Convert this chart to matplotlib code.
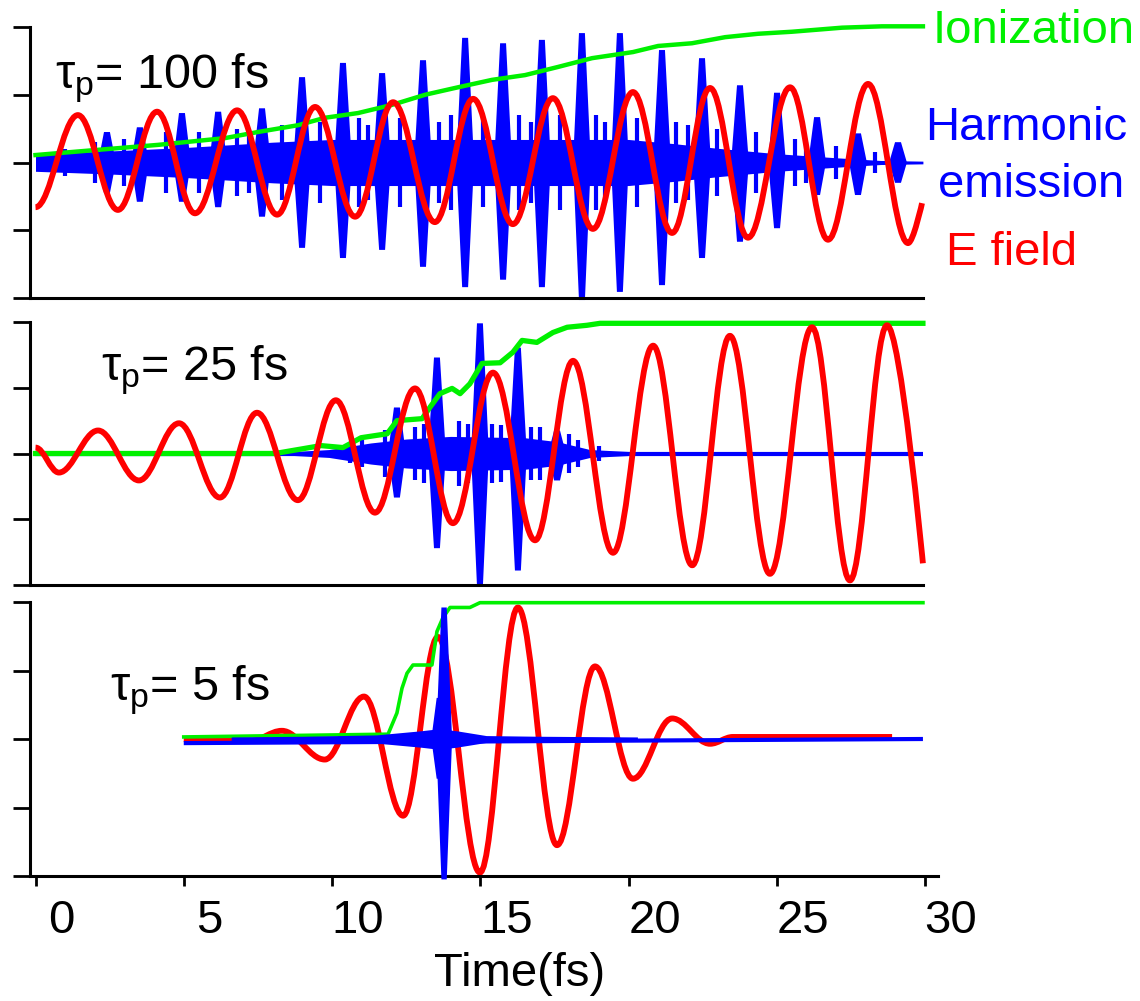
import matplotlib
matplotlib.use('Agg')
import matplotlib.pyplot as plt
import numpy as np
from matplotlib.path import Path
from matplotlib.patches import PathPatch
from matplotlib.transforms import ScaledTranslation

# ---------------- fonts ----------------
plt.rcParams['font.family'] = ['Liberation Sans', 'DejaVu Sans']
plt.rcParams['mathtext.fontset'] = 'custom'
plt.rcParams['mathtext.rm'] = 'Liberation Sans'
plt.rcParams['mathtext.it'] = 'Liberation Sans'
plt.rcParams['mathtext.bf'] = 'Liberation Sans:bold'

RED = '#ff0000'
BLUE = '#0000ff'
GREEN = '#00f000'

# ---------------- data ----------------
# E field: extrema (time fs, value) per panel
e1_t = [0.0, 1.43, 2.78, 4.10, 5.38, 6.80, 8.15, 9.43, 10.78, 12.06, 13.47, 14.76,
        16.10, 17.45, 18.80, 20.15, 21.47, 22.75, 24.03, 25.45, 26.73, 28.08, 29.43, 29.90]
e1_v = [-0.66, 0.70, -0.70, 0.75, -0.75, 0.77, -0.77, 0.82, -0.80, 0.89, -0.88, 0.94,
        -0.91, 0.95, -0.98, 1.04, -1.04, 1.10, -1.11, 1.11, -1.14, 1.16, -1.19, -0.60]

e2_t = [0.0, 0.79, 2.11, 3.49, 4.84, 6.22, 7.47, 8.85, 10.13, 11.45, 12.80, 14.08,
        15.43, 16.85, 18.13, 19.48, 20.83, 22.15, 23.42, 24.77, 26.19, 27.47, 28.72, 29.93]
e2_v = [0.09, -0.29, 0.35, -0.41, 0.46, -0.67, 0.62, -0.71, 0.81, -0.90, 0.99, -1.06,
        1.23, -1.32, 1.41, -1.51, 1.64, -1.70, 1.79, -1.83, 1.92, -1.93, 1.95, -1.67]

e3_t = [5.0, 7.23, 8.31, 9.76, 11.08, 12.40, 13.57, 14.99, 16.27, 17.59, 18.87,
        20.15, 21.47, 22.75, 23.52, 28.89]
e3_v = [0.0, -0.03, 0.12, -0.30, 0.62, -1.12, 1.49, -1.95, 1.92, -1.55, 1.06,
        -0.58, 0.30, -0.07, 0.03, 0.03]

# Ionization (time, value)
ion1_t = [0.0, 1.91, 4.13, 6.39, 7.50, 8.85, 9.76, 10.88, 12.02, 13.14, 14.25, 15.40,
          16.51, 17.62, 18.77, 20.15, 21.0, 22.14, 23.26, 24.37, 25.51, 27.20, 28.55, 29.93]
ion1_v = [0.11, 0.18, 0.26, 0.36, 0.45, 0.55, 0.66, 0.73, 0.85, 1.00, 1.11, 1.22,
          1.29, 1.41, 1.54, 1.63, 1.72, 1.76, 1.85, 1.90, 1.93, 1.99, 2.01, 2.01]

ion2_t = [0.0, 8.08, 9.63, 10.37, 10.98, 11.86, 12.19, 13.04, 13.30, 13.64, 14.05, 14.32,
          14.65, 15.06, 15.67, 16.10, 16.41, 16.91, 17.45, 17.93, 18.60, 19.04, 29.93]
ion2_v = [0.0, 0.0, 0.12, 0.09, 0.24, 0.30, 0.50, 0.53, 0.70, 0.91, 0.99, 0.91,
          1.06, 1.37, 1.38, 1.54, 1.72, 1.69, 1.84, 1.92, 1.95, 1.98, 1.98]

ion3_t = [5.0, 11.89, 12.19, 12.36, 12.53, 12.73, 13.37, 13.54, 13.74, 13.98, 14.65, 14.99, 29.93]
ion3_v = [0.03, 0.07, 0.38, 0.74, 0.96, 1.08, 1.08, 1.57, 1.77, 1.92, 1.92, 1.99, 1.99]

# Harmonic emission: background band half-width, main bursts (t, top, bottom), minor spikes
hb1_t = [0.0, 2.5, 5.0, 8.0, 10.0, 15.0, 20.0, 21.5, 23.0, 25.0, 27.0, 28.5, 29.93]
hb1_w = [0.13, 0.17, 0.22, 0.30, 0.34, 0.34, 0.34, 0.28, 0.21, 0.13, 0.07, 0.03, 0.02]
hs1_t = [2.41, 3.52, 4.94, 6.16, 7.64, 8.99, 10.37, 11.69, 13.07, 14.49, 15.77,
         17.08, 18.43, 19.71, 21.13, 22.48, 23.76, 25.01, 26.36, 27.74, 29.09]
hs1_top = [0.45, 0.52, 0.73, 0.75, 0.80, 1.26, 1.47, 1.32, 1.51, 1.84, 1.76,
           1.81, 1.91, 1.91, 1.66, 1.54, 1.14, 1.03, 0.67, 0.43, 0.30]
hs1_bot = [-0.45, -0.58, -0.58, -0.66, -0.80, -1.26, -1.41, -1.29, -1.54, -1.84, -1.73,
           -1.84, -2.03, -1.91, -1.81, -1.41, -1.17, -0.97, -0.48, -0.48, -0.30]
hm1_t = [1.0, 2.0, 3.0, 4.4, 5.5, 6.8, 7.2, 8.3, 9.6, 10.9, 11.2, 12.3, 13.6, 14.0, 15.1,
         16.3, 16.7, 17.7, 18.9, 19.2, 20.3, 21.6, 22.0, 23.0, 24.3, 25.6, 26.0, 27.0, 28.3]
hm1_a = [0.2, 0.3, 0.35, 0.45, 0.45, 0.5, 0.45, 0.55, 0.6, 0.65, 0.55, 0.65, 0.6, 0.7, 0.65,
         0.7, 0.6, 0.7, 0.7, 0.6, 0.65, 0.6, 0.55, 0.5, 0.45, 0.35, 0.3, 0.25, 0.15]

hb2_t = [8.3, 9.9, 11.3, 12.5, 14.0, 16.5, 17.6, 18.7, 20.5]
hb2_w = [0.02, 0.06, 0.16, 0.22, 0.26, 0.24, 0.18, 0.06, 0.02]
hs2_t = [12.19, 13.54, 14.99, 16.27, 17.59]
hs2_top = [0.70, 1.46, 1.98, 1.61, 0.35]
hs2_bot = [-0.67, -1.44, -2.01, -1.78, -0.41]
hm2_t = [10.6, 11.0, 11.8, 12.8, 13.1, 14.3, 14.6, 15.4, 15.7, 16.7, 17.0, 18.0, 18.3, 19.0]
hm2_a = [0.15, 0.2, 0.35, 0.4, 0.45, 0.5, 0.45, 0.45, 0.43, 0.4, 0.4, 0.3, 0.2, 0.12]

hline3_t = [5.0, 29.93]
hline3_v = [-0.06, 0.0]
hb3_t = [6.6, 9.0, 11.5, 13.0, 13.6, 14.2, 15.2, 17.0, 20.3]
hb3_w = [0.03, 0.04, 0.06, 0.12, 0.15, 0.12, 0.05, 0.04, 0.03]
hs3_t = [13.62, 13.78]
hs3_top = [0.60, 1.92]
hs3_bot = [-0.58, -2.05]

xticks = [0, 5, 10, 15, 20, 25, 30]
yticks = [-2, -1, 0, 1, 2]

# ---------------- helpers ----------------
W, H = 1140, 1001


def fx(px):
    return px / W


def fy(py):
    return 1 - py / H


def efield(ax, t, v, free_start=False, free_end=True, z=3):
    # smooth curve through the extrema: Bezier segments with flat tangents at each extremum
    verts = [(t[0], v[0])]
    codes = [Path.MOVETO]
    for i in range(1, len(t)):
        dt = t[i] - t[i - 1]
        c1 = (t[i - 1] + 0.364 * dt, v[i - 1])
        c2 = (t[i] - 0.364 * dt, v[i])
        if i == 1 and free_start:
            c1 = (t[0], v[0])
        if i == len(t) - 1 and free_end:
            c2 = (t[i], v[i])
        verts += [c1, c2, (t[i], v[i])]
        codes += [Path.CURVE4] * 3
    patch = PathPatch(Path(verts, codes), facecolor='none', edgecolor=RED, lw=4.2,
                      joinstyle='round', capstyle='butt', zorder=z, clip_on=False)
    ax.add_patch(patch)


def spikes(ax, ts, tops, bots, center=0.0, hw=0.07, z=1):
    # column-like burst: narrow tip, slightly wider body, wider foot
    for t, top, bot in zip(ts, tops, bots):
        mt = center + 0.7 * (top - center)
        mb = center + 0.7 * (bot - center)
        xs = [t - 3 * hw, t - 1.6 * hw, t - hw, t + hw, t + 1.6 * hw, t + 3 * hw,
              t + 1.6 * hw, t + hw, t - hw, t - 1.6 * hw]
        ys = [center, mt, top, top, mt, center, mb, bot, bot, mb]
        ax.fill(xs, ys, color=BLUE, lw=0, zorder=z, clip_on=False)


def style(ax, xmax, show_x=False):
    ax.set_xlim(-0.1855, xmax)
    ax.set_ylim(-2, 2)
    for s in ['top', 'right']:
        ax.spines[s].set_visible(False)
    for s in ['left', 'bottom']:
        ax.spines[s].set_linewidth(2.2)
    ax.set_yticks(yticks)
    ax.set_yticklabels([])
    ax.tick_params(axis='y', direction='out', length=12.5, width=2.0)
    if show_x:
        ax.set_xticks(xticks)
        ax.set_xticklabels([str(x) for x in xticks], fontsize=34)
        ax.tick_params(axis='x', direction='out', length=7.5, width=2.0, pad=9)
        for lab in ax.get_xticklabels():
            lab.set_transform(lab.get_transform() + ScaledTranslation(0.26, 0, ax.figure.dpi_scale_trans))
    else:
        ax.set_xticks([])


# ---------------- figure ----------------
fig = plt.figure(figsize=(11.4, 10.01), dpi=100)

ax1 = fig.add_axes([fx(30), fy(298), fx(923) - fx(30), (298 - 27) / H])
ax2 = fig.add_axes([fx(30), fy(585), fx(923) - fx(30), (585 - 322) / H])
ax3 = fig.add_axes([fx(30), fy(876), fx(938) - fx(30), (876 - 602) / H])

# panel 1: tau_p = 100 fs
hb = np.array(hb1_w)
ax1.fill_between(hb1_t, -hb, hb, color=BLUE, lw=0, zorder=1)
ax1.vlines(hm1_t, -np.array(hm1_a), hm1_a, color=BLUE, lw=3.0, zorder=1)
spikes(ax1, hs1_t, hs1_top, hs1_bot, hw=0.1)
ax1.plot(ion1_t, ion1_v, color=GREEN, lw=3.2, zorder=2, clip_on=False)
efield(ax1, e1_t, e1_v)
style(ax1, 29.933)

# panel 2: tau_p = 25 fs
ax2.plot([0.0, 29.93], [0.0, 0.0], color=BLUE, lw=3.0, zorder=1, solid_capstyle='butt')
hb = np.array(hb2_w)
ax2.fill_between(hb2_t, -hb, hb, color=BLUE, lw=0, zorder=1)
ax2.vlines(hm2_t, -np.array(hm2_a), hm2_a, color=BLUE, lw=3.0, zorder=1)
spikes(ax2, hs2_t, hs2_top, hs2_bot, hw=0.1)
ax2.plot(ion2_t, ion2_v, color=GREEN, lw=3.8, zorder=2, clip_on=False)
efield(ax2, e2_t, e2_v)
style(ax2, 29.933)

# panel 3: tau_p = 5 fs
efield(ax3, e3_t, e3_v, z=1)
ax3.plot(ion3_t, ion3_v, color=GREEN, lw=2.6, zorder=2, clip_on=False)
ax3.plot(hline3_t, hline3_v, color=BLUE, lw=3.0, zorder=3, solid_capstyle='butt')
hb = np.array(hb3_w)
ax3.fill_between(hb3_t, -hb, hb, color=BLUE, lw=0, zorder=3)
spikes(ax3, hs3_t, hs3_top, hs3_bot, hw=0.09, z=3)
style(ax3, 30.438, show_x=True)

# ---------------- text ----------------
fs = 34
fig.text(fx(55), fy(88), r'$\tau_{\mathrm{p}}$= 100 fs', fontsize=35, va='baseline')
fig.text(fx(101), fy(380), r'$\tau_{\mathrm{p}}$= 25 fs', fontsize=35, va='baseline')
fig.text(fx(110), fy(700), r'$\tau_{\mathrm{p}}$= 5 fs', fontsize=35, va='baseline')

fig.text(fx(933), fy(43), 'Ionization', color=GREEN, fontsize=fs, va='baseline')
fig.text(fx(1127), fy(140), 'Harmonic', color=BLUE, fontsize=fs, va='baseline', ha='right')
fig.text(fx(1124), fy(197), 'emission', color=BLUE, fontsize=fs, va='baseline', ha='right')
fig.text(fx(946), fy(265), 'E field', color=RED, fontsize=fs, va='baseline')

fig.text(fx(520), fy(986), 'Time(fs)', fontsize=fs, va='baseline', ha='center')

fig.savefig('out.png', dpi=100)
